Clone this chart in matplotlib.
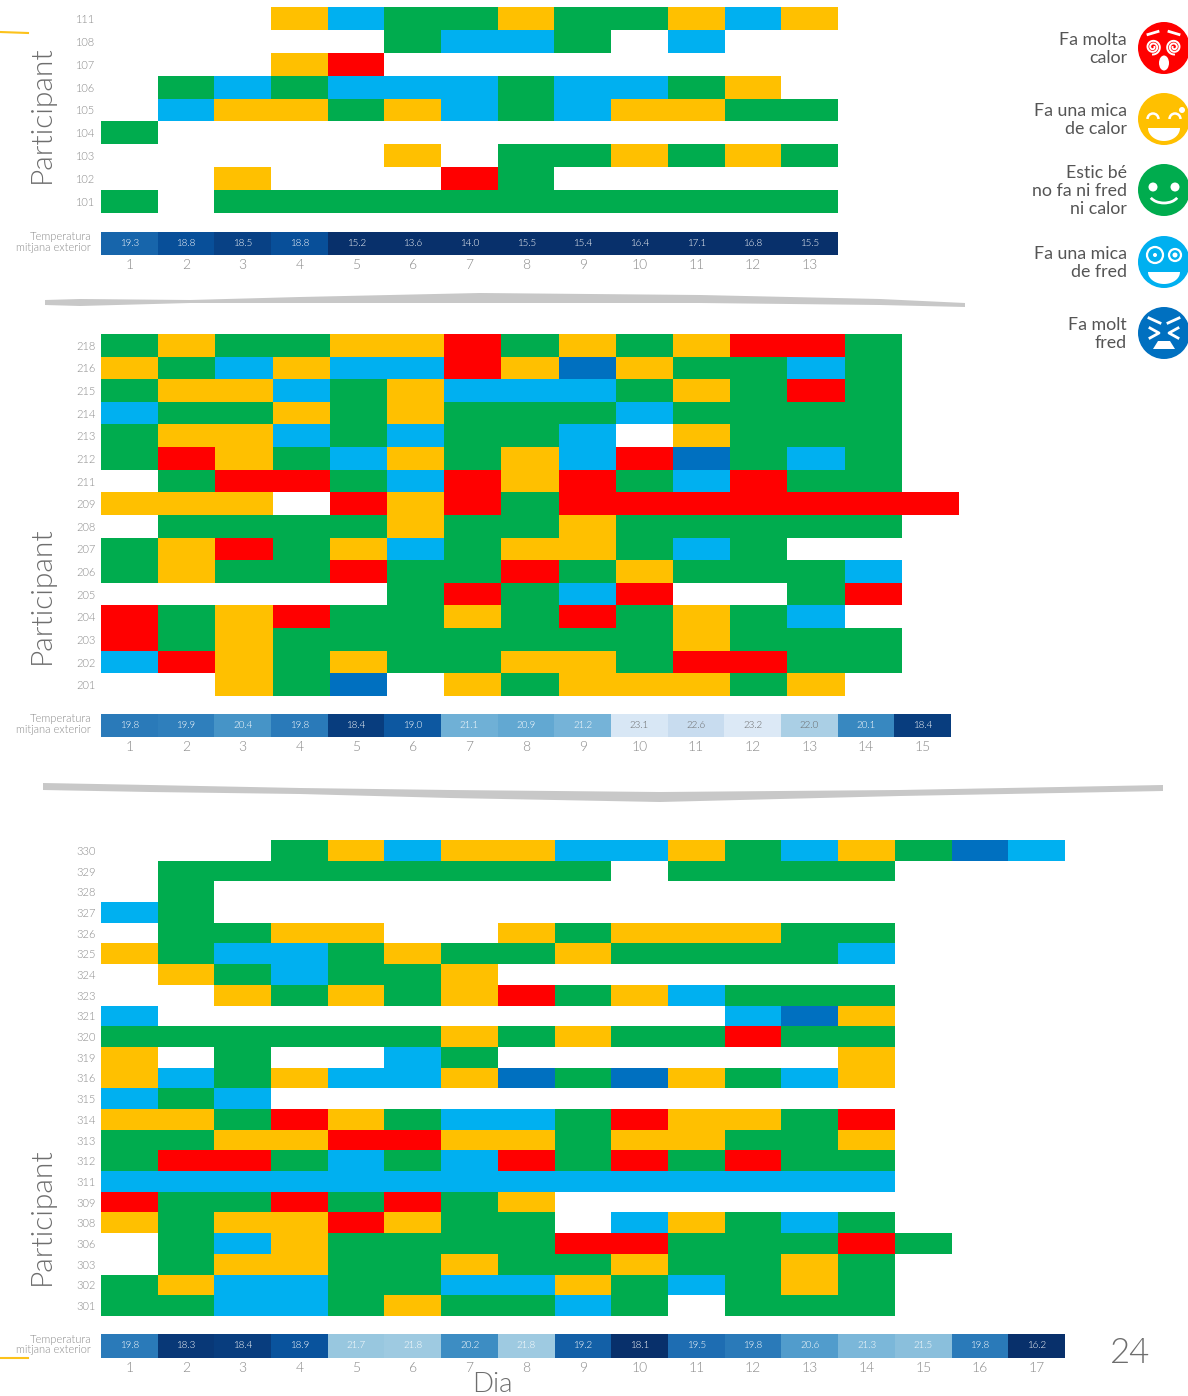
import matplotlib
matplotlib.use('Agg')
import matplotlib.pyplot as plt
from matplotlib.colors import ListedColormap, BoundaryNorm
from matplotlib.patches import Circle, Ellipse, Arc, Polygon
import numpy as np

W, H = 1188, 1396

participants1 = ['111', '108', '107', '106', '105', '104', '103', '102', '101']
rows1 = [
    '...YBGGYGGYBY',
    '.....GBBG.B..',
    '...YR........',
    '.GBGBBBGBBGY.',
    '.BYYGYBGBYYGG',
    'G............',
    '.....Y.GGYGYG',
    '..Y...RG.....',
    'G.GGGGGGGGGGG',
]
temp1 = [19.3, 18.8, 18.5, 18.8, 15.2, 13.6, 14.0, 15.5, 15.4, 16.4, 17.1, 16.8, 15.5]

participants2 = ['218', '216', '215', '214', '213', '212', '211', '209', '208',
                 '207', '206', '205', '204', '203', '202', '201']
rows2 = [
    'GYGGYYRGYGYRRG.',
    'YGBYBBRYDYGGBG.',
    'GYYBGYBBBGYGRG.',
    'BGGYGYGGGBGGGG.',
    'GYYBGBGGB.YGGG.',
    'GRYGBYGYBRDGBG.',
    '.GRRGBRYRGBRGG.',
    'YYY.RYRGRRRRRRR',
    '.GGGGYGGYGGGGG.',
    'GYRGYBGYYGBG...',
    'GYGGRGGRGYGGGB.',
    '.....GRGBR..GR.',
    'RGYRGGYGRGYGB..',
    'RGYGGGGGGGYGGG.',
    'BRYGYGGYYGRRGG.',
    '..YGD.YGYYYGY..',
]
temp2 = [19.8, 19.9, 20.4, 19.8, 18.4, 19.0, 21.1, 20.9, 21.2, 23.1, 22.6, 23.2, 22.0, 20.1, 18.4]

participants3 = ['330', '329', '328', '327', '326', '325', '324', '323', '321', '320',
                 '319', '316', '315', '314', '313', '312', '311', '309', '308', '306',
                 '303', '302', '301']
rows3 = [
    '...GYBYYBBYGBYGDB',
    '.GGGGGGGG.GGGG...',
    '.G...............',
    'BG...............',
    '.GGYY..YGYYYGG...',
    'YGBBGYGGYGGGGB...',
    '.YGBGGY..........',
    '..YGYGYRGYBGGG...',
    'B..........BDY...',
    'GGGGGGYGYGGRGG...',
    'Y.G..BG......Y...',
    'YBGYBBYDGDYGBY...',
    'BGB..............',
    'YYGRYGBBGRYYGR...',
    'GGYYRRYYGYYGGY...',
    'GRRGBGBRGRGRGG...',
    'BBBBBBBBBBBBBB...',
    'RGGRGRGY.........',
    'YGYYRYGG.BYGBG...',
    '.GBYGGGGRRGGGRG..',
    '.GYYGGYGGYGGYG...',
    'GYBBGGBBYGBGYG...',
    'GGBBGYGGBG.GGG...',
]
temp3 = [19.8, 18.3, 18.4, 18.9, 21.7, 21.8, 20.2, 21.8, 19.2, 18.1, 19.5, 19.8, 20.6, 21.3, 21.5, 19.8, 16.2]

codes = '.DBGYR'
colors = ['#ffffff', '#0070c0', '#00b0f0', '#00ac4e', '#ffc000', '#ff0000']
heat_cmap = ListedColormap(colors)
heat_norm = BoundaryNorm(np.arange(-0.5, 6), 6)

legend_labels = ['Fa molta\ncalor', 'Fa una mica\nde calor', 'Estic bé\nno fa ni fred\nni calor',
                 'Fa una mica\nde fred', 'Fa molt\nfred']

GREY = '#8a8a8a'
DARK = '#555555'
plt.rcParams['font.family'] = ['Lato', 'DejaVu Sans']

fig = plt.figure(figsize=(W / 100, H / 100), dpi=100)


def px_axes(x0, y0, x1, y1):
    return fig.add_axes([x0 / W, 1 - y1 / H, (x1 - x0) / W, (y1 - y0) / H])


def heat_panel(rows, names, temps, heat_box, temp_box):
    grid = np.array([[codes.index(c) for c in r] for r in rows])
    ax = px_axes(*heat_box)
    ax.imshow(grid, cmap=heat_cmap, norm=heat_norm, aspect='auto', interpolation='nearest')
    ax.set_yticks(range(len(names)), names, fontsize=8, color=GREY, fontweight=300)
    ax.set_xticks([])
    ax.tick_params(length=0, pad=4)
    for s in ax.spines.values():
        s.set_visible(False)

    tx = px_axes(*temp_box)
    tx.imshow([temps], cmap='Blues_r', vmin=18.1, vmax=24, aspect='auto', interpolation='nearest')
    for i, t in enumerate(temps):
        tx.text(i, 0, f'{t:.1f}', ha='center', va='center', fontsize=7, fontweight=300,
                color='#666666' if t >= 22 else 'white')
    tx.set_yticks([])
    tx.set_xticks(range(len(temps)), range(1, len(temps) + 1), fontsize=10, color=GREY, fontweight=300)
    tx.tick_params(length=0, pad=3)
    for s in tx.spines.values():
        s.set_visible(False)
    fig.text(91 / W, 1 - ((temp_box[1] + temp_box[3]) / 2 - 1.5) / H, 'Temperatura\nmitjana exterior',
             ha='right', va='center', fontsize=8, color=GREY, linespacing=0.95, fontweight=300)


heat_panel(rows1, participants1, temp1, (101, 7, 838, 213), (101, 232, 838, 255))
heat_panel(rows2, participants2, temp2, (101, 334, 959, 696), (101, 714, 951, 737))
heat_panel(rows3, participants3, temp3, (101, 840, 1065, 1316), (101, 1334, 1065, 1358))

# overlay in pixel coords for labels and the legend
ov = fig.add_axes([0, 0, 1, 1], zorder=5)
ov.set_xlim(0, W)
ov.set_ylim(H, 0)
ov.axis('off')
ov.patch.set_alpha(0)

for yc in (114, 595, 1216):
    ov.text(42, yc, 'Participant', rotation=90, ha='center', va='center', fontsize=21.5,
            color='#6e6e6e', fontweight=300)
ov.text(492, 1385, 'Dia', ha='center', va='center', fontsize=20, color='#6e6e6e', fontweight=300)
ov.text(1130, 1353, '24', ha='center', va='center', fontsize=25, color='#6e6e6e', fontweight=300)


def brush(xs, top, bottom):
    ov.fill(list(xs) + list(xs)[::-1], list(top) + list(bottom)[::-1], color='#c8c8c8', lw=0)


# brush strokes between panels
brush([45, 80, 190, 300, 480, 700, 880, 965],
      [300, 299, 300, 297, 293, 295, 299, 303],
      [305, 306, 303, 303, 303, 303, 305, 307])
brush([43, 150, 300, 450, 660, 900, 1060, 1163],
      [783, 785, 788, 790, 792, 790, 787, 785],
      [790, 792, 794, 798, 802, 796, 793, 791])
ov.plot([0, 28], [32, 33], color='#fcc21b', lw=1.5)
ov.plot([0, 28], [1358, 1358], color='#fcc21b', lw=1.5)

cx = 1164
rad = 26
centers = [48, 119, 190, 262, 333]
face_colors = ['#ff0000', '#ffc000', '#00ac4e', '#00b0f0', '#0070c0']
for y, lab, col in zip(centers, legend_labels, face_colors):
    ov.add_patch(Circle((cx, y), rad, color=col, lw=0))
    ov.text(1127, y + 1, lab, ha='right', va='center', fontsize=12.8, color=DARK, linespacing=1.16)


def half_mouth(y, w, d):
    th = np.linspace(0, np.pi, 40)
    ov.fill(cx + w * np.cos(th), y + d * np.sin(th), color='white', lw=0)


# red face
y = centers[0]
for ex, sign in ((-11, 1), (10, -1)):
    th = np.linspace(0, 4.5 * np.pi, 80)
    r = 1.5 + 6 * th / th.max()
    ov.plot(cx + ex + sign * r * np.cos(th), y - 1 + r * np.sin(th), color='white', lw=1.4)
    ov.plot([cx + ex - 5, cx + ex + 5], [y - 15 + sign * 1.5, y - 15 - sign * 1.5], color='white', lw=2)
ov.add_patch(Ellipse((cx, y + 15), 10, 15, color='white', lw=0))

# yellow face
y = centers[1]
for ex in (-11, 11):
    ov.add_patch(Arc((cx + ex, y), 11, 11, theta1=180, theta2=360, color='white', lw=1.8))
half_mouth(y + 9, 16, 13)
ov.add_patch(Circle((cx + 18, y - 9), 3, color='white', lw=0))

# green face
y = centers[2]
for ex in (-11, 11):
    ov.add_patch(Circle((cx + ex, y - 3), 4.5, color='white', lw=0))
ov.add_patch(Arc((cx, y + 3), 30, 20, theta1=20, theta2=160, color='white', lw=2))

# light blue face
y = centers[3]
ov.add_patch(Circle((cx - 9, y - 7), 8, fill=False, ec='white', lw=1.6))
ov.add_patch(Circle((cx - 9, y - 7), 2, color='white', lw=0))
ov.add_patch(Circle((cx + 11, y - 7), 6, fill=False, ec='white', lw=1.6))
ov.add_patch(Circle((cx + 11, y - 7), 2.5, color='white', lw=0))
half_mouth(y + 10, 16, 12)

# dark blue face
y = centers[4]
ov.plot([cx - 14, cx - 5, cx - 14], [y - 5, y, y + 5], color='white', lw=2)
ov.plot([cx + 14, cx + 5, cx + 14], [y - 5, y, y + 5], color='white', lw=2)
ov.plot([cx - 15, cx - 4], [y - 15, y - 10], color='white', lw=2)
ov.plot([cx + 15, cx + 4], [y - 15, y - 10], color='white', lw=2)
ov.add_patch(Polygon([(cx - 11, y + 16), (cx + 11, y + 16), (cx + 6, y + 8), (cx - 6, y + 8)], color='white', lw=0))

fig.savefig('out.png', dpi=100)
